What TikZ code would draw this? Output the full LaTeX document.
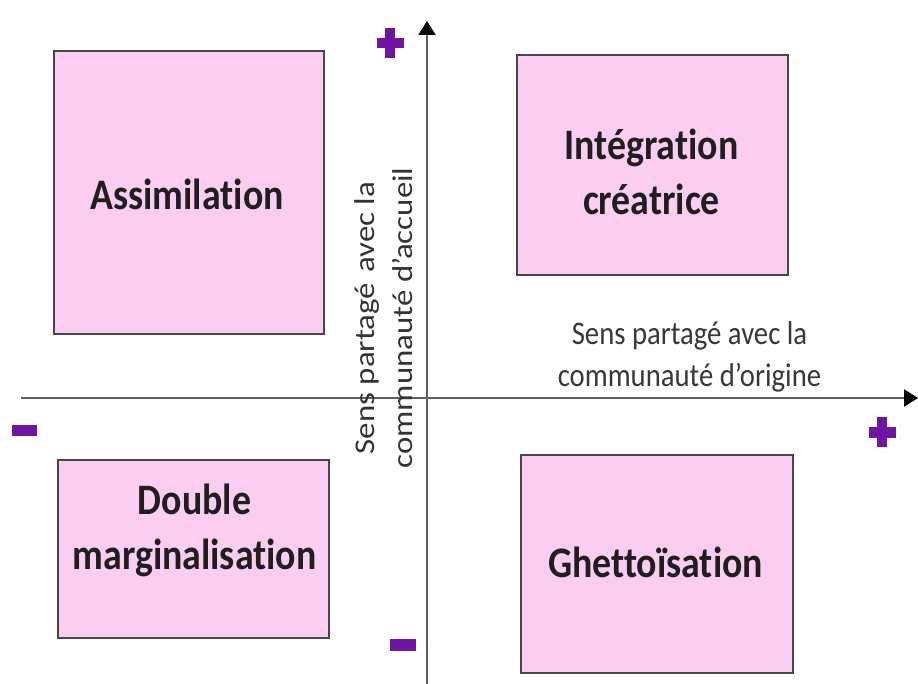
\documentclass[tikz,border=0pt]{standalone}
\usepackage{fontspec}
\setmainfont{Carlito}[FakeStretch=0.87,Ligatures={NoCommon}]
\newfontfamily\rotfont{Carlito}[FakeStretch=1.15,Ligatures={NoCommon}]
\usetikzlibrary{arrows.meta}
\definecolor{boxpink}{RGB}{251,205,240}
\definecolor{boxline}{RGB}{70,70,70}
\definecolor{signpurple}{RGB}{112,20,165}
\definecolor{axisgray}{RGB}{95,95,95}
\begin{document}
\begin{tikzpicture}[x=1pt,y=-1pt,
  quad/.style={draw=boxline, fill=boxpink, line width=1.8pt, inner sep=0pt},
  lab/.style={font=\fontsize{43.5}{55}\selectfont\bfseries, text=black!88, align=center, inner sep=0pt},
  smalltxt/.style={font=\fontsize{33}{42}\selectfont, text=black!78, align=center, inner sep=0pt},
  rottxt/.style={font=\rotfont\fontsize{28.6}{38}\selectfont, text=black!80, align=center, rotate=90, inner sep=0pt},
  axisline/.style={draw=axisgray, line width=2pt, -{Triangle[width=17pt,length=14pt,fill=black,color=black]}},
  sign/.style={fill=signpurple}]
\useasboundingbox (0,0) rectangle (918,684);
% boxes
\node[quad, minimum width=270pt, minimum height=283pt] (assim) at (189,192.5) {};
\node[quad, minimum width=271pt, minimum height=220pt] (integ) at (652.5,165) {};
\node[quad, minimum width=271pt, minimum height=178pt] (double) at (193.5,549) {};
\node[quad, minimum width=272pt, minimum height=218pt] (ghetto) at (657,564) {};
% box labels
\node[lab, anchor=base] (assimtxt) at (187,210) {Assimilation};
\node[lab] (integtxt) at (651.5,172) {Intégration\\créatrice};
\node[lab] (doubletxt) at (194.5,530) {Double\\marginalisation};
\node[lab, anchor=base] (ghettotxt) at (655.5,577) {Ghettoïsation};
% axes
\coordinate (xstart) at (21,398);
\coordinate (xend) at (918,398);
\coordinate (ybot) at (427,684);
\coordinate (ytop) at (427,21);
\draw[axisline] (xstart) -- (xend);
\draw[axisline] (ybot) -- (ytop);
% axis labels
\node[smalltxt] (origine) at (689.5,356.5) {Sens partagé avec la\\communauté d’origine};
\node[rottxt] (accueil) at (383.5,318) {Sens partagé\hspace{0.1em} avec la\\communauté d’accueil};
% signs
\fill[sign] (376.5,38) rectangle (403.5,48.5);
\fill[sign] (384.5,28) rectangle (395,58);
\fill[sign] (868.5,427) rectangle (895.5,437.5);
\fill[sign] (876.5,417) rectangle (887,447);
\fill[sign] (12,425) rectangle (37,436);
\fill[sign] (390,639) rectangle (416,651);
\end{tikzpicture}
\end{document}
